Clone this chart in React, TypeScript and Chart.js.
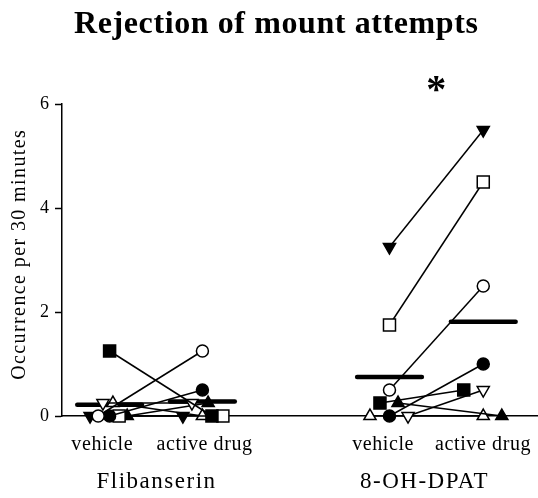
import React, { useEffect, useRef } from 'react';
import { Chart, registerables } from 'chart.js';

Chart.register(...registerables);

// ---- text ----
const chartTitle = 'Rejection of mount attempts';
const yAxisTitle = 'Occurrence per 30 minutes';
const groupNames = ['Flibanserin', '8-OH-DPAT'];
const conditionNames = ['vehicle', 'active drug', 'vehicle', 'active drug'];
const significance = '*';

// ---- x positions (data units on a 0..10 linear axis) ----
const conditionX = [1.0, 2.95, 6.88, 8.85]; // Flib veh, Flib act, DPAT veh, DPAT act
const conditionLabelX = [0.84, 2.99, 6.74, 8.84];
const groupLabelX = [1.97, 7.6];
const starX = 7.86;
const starY = 6.32;

// ---- y ticks ----
const yMin = 0;
const yMax = 6;
const yStep = 2;

// ---- subjects (marker styles) ----
const subjectShape = ['rect', 'circle', 'circle', 'rect', 'triangle', 'triangle', 'triangle', 'triangle'];
const subjectFilled = [true, false, true, false, true, false, true, false];
const subjectRotation = [0, 0, 0, 0, 180, 180, 0, 0];

// ---- values ----
const flibVehicle = [1.25, 0, 0, 0, 0, 0.25, 0, 0.25];
const flibActive = [0, 1.25, 0.5, 0, 0, 0.25, 0.25, 0];
const dpatVehicle = [0.25, 0.5, 0, 1.75, 3.25, 0, 0.25, 0];
const dpatActive = [0.5, 2.5, 1, 4.5, 5.5, 0.5, 0, 0];

// ---- horizontal jitter of each subject ----
const flibVehicleJitter = [0, -0.24, 0, 0.2, -0.41, -0.14, 0.37, 0.07];
const flibActiveJitter = [0.2, 0, 0, 0.43, -0.41, -0.22, 0.12, 0];
const dpatVehicleJitter = [-0.2, 0, 0, 0, 0, 0.39, 0.18, -0.41];
const dpatActiveJitter = [-0.41, 0, 0, 0, 0, 0, 0.39, 0];

const meanHalfWidth = 0.68;

const SERIF = '"Liberation Serif", "DejaVu Serif", serif';

function radiusFor(shape: string) {
  if (shape === 'rect') return 8.5;
  if (shape === 'circle') return 6;
  return 7;
}

function mean(a: number[]) {
  return a.reduce((s, v) => s + v, 0) / a.length;
}

function drawText(
  ctx: CanvasRenderingContext2D,
  text: string,
  cx: number,
  baseline: number,
  font: string,
  spacing: number,
) {
  ctx.save();
  ctx.font = font;
  (ctx as any).letterSpacing = spacing + 'px';
  ctx.fillStyle = '#000';
  ctx.textAlign = 'center';
  ctx.textBaseline = 'alphabetic';
  ctx.fillText(text, cx + spacing / 2, baseline);
  ctx.restore();
}

const textPlugin = {
  id: 'textPlugin',
  afterDraw(chart: any) {
    const ctx: CanvasRenderingContext2D = chart.ctx;
    const xs = chart.scales.x;
    const ys = chart.scales.y;
    // title
    drawText(ctx, chartTitle, 276, 33, `bold 32px ${SERIF}`, 0.6);
    // significance star
    drawText(ctx, significance, xs.getPixelForValue(starX), ys.getPixelForValue(starY) + 15, `bold 40px ${SERIF}`, 0);
    // condition labels
    conditionNames.forEach((t, i) => {
      drawText(ctx, t, xs.getPixelForValue(conditionLabelX[i]), 450, `20px ${SERIF}`, 0.6);
    });
    // group labels
    groupNames.forEach((t, i) => {
      drawText(ctx, t, xs.getPixelForValue(groupLabelX[i]), 488, `23px ${SERIF}`, 1.5);
    });
    // y axis title
    ctx.save();
    ctx.translate(25, (ys.top + ys.bottom) / 2 - 5);
    ctx.rotate(-Math.PI / 2);
    drawText(ctx, yAxisTitle, 0, 0, `20px ${SERIF}`, 1.4);
    ctx.restore();
  },
};

function subjectDatasets(veh: number[], act: number[], vj: number[], aj: number[], xv: number, xa: number) {
  return veh.map((v, i) => {
    const shape = subjectShape[i];
    return {
      type: 'line' as const,
      data: [
        { x: xv + vj[i], y: v },
        { x: xa + aj[i], y: act[i] },
      ],
      borderColor: '#000',
      borderWidth: 1.5,
      pointStyle: shape,
      pointRadius: radiusFor(shape),
      pointRotation: subjectRotation[i],
      pointBackgroundColor: subjectFilled[i] ? '#000' : '#fff',
      pointBorderColor: '#000',
      pointBorderWidth: 1.5,
      fill: false,
      tension: 0,
      clip: false,
    };
  });
}

function meanDataset(values: number[], cx: number) {
  const m = mean(values);
  return {
    type: 'line' as const,
    data: [
      { x: cx - meanHalfWidth, y: m },
      { x: cx + meanHalfWidth, y: m },
    ],
    borderColor: '#000',
    borderWidth: 4.5,
    pointRadius: 0,
    borderCapStyle: 'round' as const,
    fill: false,
  };
}

export default function App() {
  const ref = useRef<HTMLCanvasElement | null>(null);
  useEffect(() => {
    if (!ref.current) return;
    const datasets: any[] = [
      ...subjectDatasets(flibVehicle, flibActive, flibVehicleJitter, flibActiveJitter, conditionX[0], conditionX[1]),
      ...subjectDatasets(dpatVehicle, dpatActive, dpatVehicleJitter, dpatActiveJitter, conditionX[2], conditionX[3]),
      meanDataset(flibVehicle, conditionX[0]),
      meanDataset(flibActive, conditionX[1]),
      meanDataset(dpatVehicle, conditionX[2]),
      meanDataset(dpatActive, conditionX[3]),
    ];
    const chart = new Chart(ref.current, {
      type: 'line',
      data: { datasets },
      options: {
        animation: false,
        responsive: false,
        maintainAspectRatio: false,
        layout: { autoPadding: false, padding: { top: 104, left: 0, right: 0, bottom: 0 } },
        plugins: {
          legend: { display: false },
          title: { display: false },
          tooltip: { enabled: false },
        },
        scales: {
          x: {
            type: 'linear',
            min: 0,
            max: 10,
            ticks: { display: false },
            grid: { display: false, drawTicks: false },
            border: { display: true, color: '#000', width: 1.5 },
            afterFit: (s: any) => {
              s.height = 82;
            },
          },
          y: {
            type: 'linear',
            min: yMin,
            max: yMax,
            ticks: {
              stepSize: yStep,
              color: '#000',
              padding: 6,
              font: { family: SERIF, size: 18 },
            },
            grid: {
              drawOnChartArea: false,
              drawTicks: true,
              tickLength: 7,
              tickColor: '#000',
              tickWidth: 1.5,
            },
            border: { display: true, color: '#000', width: 1.5 },
            afterFit: (s: any) => {
              s.width = 62;
            },
          },
        },
      },
      plugins: [textPlugin],
    });
    return () => chart.destroy();
  }, []);
  return (
    <div style={{ position: 'absolute', left: 0, top: 0, width: 538, height: 498, background: '#fff' }}>
      <canvas ref={ref} width={538} height={498} style={{ width: 538, height: 498 }} />
    </div>
  );
}
